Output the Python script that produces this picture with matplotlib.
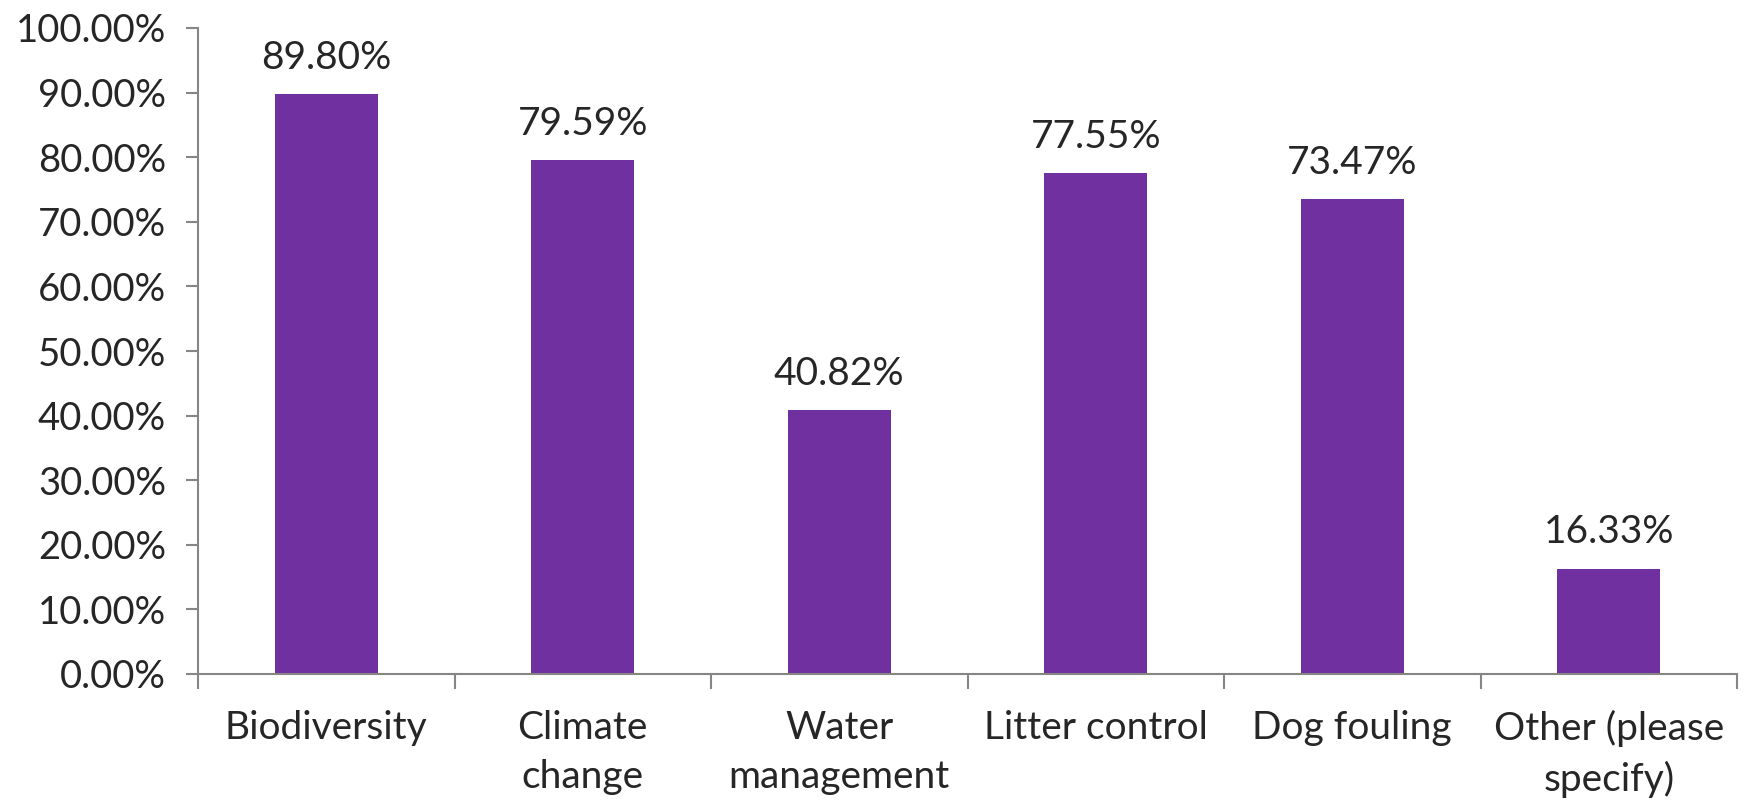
import matplotlib.pyplot as plt
from matplotlib.ticker import FuncFormatter, FixedLocator

# data
categories = ["Biodiversity", "Climate\nchange", "Water\nmanagement",
              "Litter control", "Dog fouling", "Other (please\nspecify)"]
values = [89.80, 79.59, 40.82, 77.55, 73.47, 16.33]

bar_color = "#7030A0"
axis_color = "#868686"
text_color = "#262626"

plt.rcParams['font.family'] = ['Lato', 'DejaVu Sans']

fig = plt.figure(figsize=(17.44, 8.02), dpi=100)
ax = fig.add_axes([198 / 1744, 128 / 802, (1737 - 198) / 1744, (674 - 28) / 802])

x = list(range(len(categories)))
bars = ax.bar(x, values, width=0.4, color=bar_color)

# value labels above each bar
for b, v in zip(bars, values):
    ax.annotate(f"{v:.2f}%", (b.get_x() + b.get_width() / 2, b.get_height()),
                xytext=(0, 13), textcoords="offset points",
                ha="center", va="bottom", fontsize=28, color=text_color)

ax.set_xlim(-0.5, len(categories) - 0.5)
ax.set_ylim(0, 100)
ax.set_yticks(range(0, 101, 10))
ax.yaxis.set_major_formatter(FuncFormatter(lambda v, p: f"{v:.2f}%"))

ax.set_xticks(x)
ax.set_xticklabels(categories, linespacing=1.45)
ax.xaxis.set_minor_locator(FixedLocator([i - 0.5 for i in range(len(categories) + 1)]))

ax.tick_params(axis="x", which="major", length=0, pad=26, labelsize=28, labelcolor=text_color)
ax.tick_params(axis="x", which="minor", length=11, width=1.5, color=axis_color, direction="out")
ax.tick_params(axis="y", length=9, width=1.5, color=axis_color, pad=14,
               labelsize=27.5, labelcolor=text_color)

for side in ["top", "right"]:
    ax.spines[side].set_visible(False)
for side in ["left", "bottom"]:
    ax.spines[side].set_color(axis_color)
    ax.spines[side].set_linewidth(1.5)

fig.savefig("out.png", dpi=100)
